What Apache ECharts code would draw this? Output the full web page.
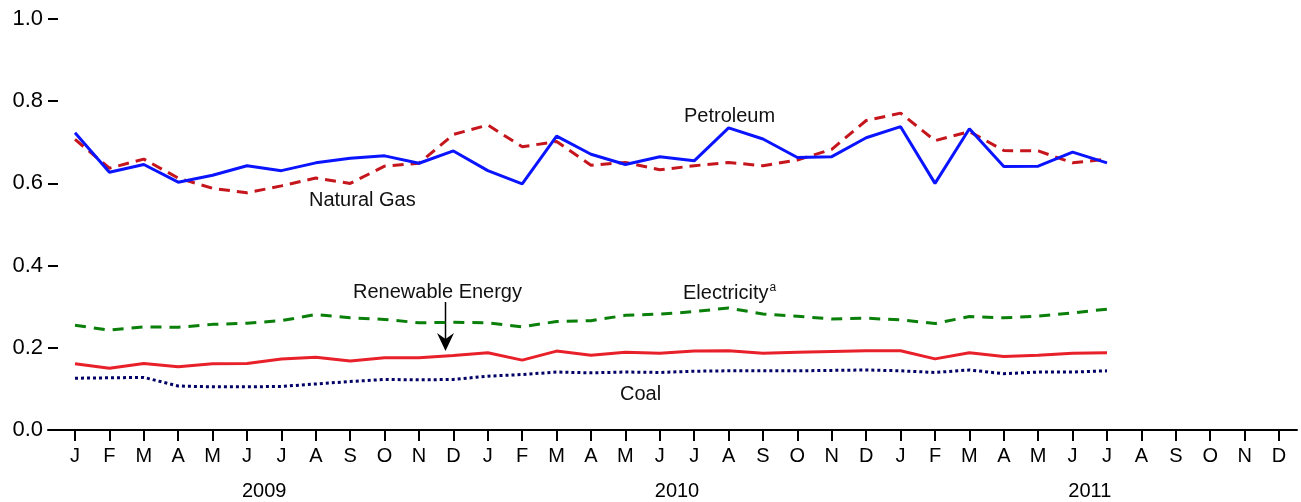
<!DOCTYPE html>
<html>
<head>
<meta charset="utf-8">
<script src="https://cdn.jsdelivr.net/npm/echarts@6/dist/echarts.min.js"></script>
<style>
html,body{margin:0;padding:0;background:#fff;}
#chart{width:1301px;height:502px;}
</style>
</head>
<body>
<div id="chart"></div>
<script>
// Jan 2009 .. Dec 2011
const monthLabels = ['J','F','M','A','M','J','J','A','S','O','N','D'];
const yearLabels = ['2009','2010','2011'];
const yTicks = [0, 0.2, 0.4, 0.6, 0.8, 1.0];

// values Jan 2009 .. Jul 2011
const petroleum = [0.723,0.627,0.646,0.603,0.620,0.643,0.631,0.650,0.661,0.667,0.649,0.679,
                   0.631,0.599,0.715,0.671,0.646,0.665,0.655,0.735,0.708,0.663,0.665,0.711,
                   0.738,0.600,0.733,0.641,0.642,0.676,0.650];
const naturalGas = [0.707,0.637,0.659,0.613,0.588,0.577,0.594,0.613,0.600,0.642,0.649,0.719,
                    0.742,0.689,0.702,0.644,0.651,0.633,0.643,0.651,0.643,0.657,0.683,0.753,
                    0.771,0.704,0.726,0.680,0.679,0.650,0.659];
const electricity = [0.255,0.243,0.251,0.250,0.257,0.260,0.266,0.281,0.273,0.269,0.261,0.262,
                     0.261,0.251,0.264,0.266,0.279,0.282,0.288,0.297,0.282,0.277,0.270,0.272,
                     0.268,0.259,0.276,0.273,0.277,0.285,0.294];
const renewable = [0.161,0.150,0.162,0.154,0.161,0.162,0.173,0.177,0.168,0.176,0.176,0.181,
                   0.188,0.170,0.192,0.182,0.189,0.187,0.192,0.193,0.187,0.189,0.191,0.193,
                   0.193,0.173,0.188,0.179,0.182,0.187,0.188];
const coal = [0.126,0.127,0.128,0.107,0.105,0.105,0.106,0.112,0.118,0.123,0.122,0.123,
              0.131,0.135,0.141,0.139,0.141,0.140,0.143,0.144,0.144,0.144,0.145,0.146,
              0.144,0.140,0.146,0.137,0.141,0.141,0.144];

const pairs = arr => arr.map((v, i) => [i, v]);
const FONT = '"Liberation Sans", Arial, sans-serif';

const chart = echarts.init(document.getElementById('chart'), null, {renderer: 'canvas'});
const TOP = 19, BOTTOM = 72;

const option = {
  animation: false,
  backgroundColor: '#fff',
  grid: [
    {left: 48, right: 4, top: TOP, bottom: BOTTOM},
    {left: 75, right: 22, top: TOP, bottom: BOTTOM}
  ],
  xAxis: [
    {gridIndex: 0, type: 'value', min: 0, max: 1, axisLine: {show: true, lineStyle: {color: '#000', width: 2}},
     axisTick: {show: false}, axisLabel: {show: false}, splitLine: {show: false}},
    {gridIndex: 1, type: 'value', min: 0, max: 35, interval: 1,
     axisLine: {show: false},
     axisTick: {show: true, length: 11, inside: false, lineStyle: {color: '#000', width: 2}},
     axisLabel: {show: true, interval: 0, margin: 16, color: '#000', fontSize: 20, fontFamily: FONT,
       formatter: v => monthLabels[((v % 12) + 12) % 12]},
     splitLine: {show: false}},
    {gridIndex: 1, type: 'value', min: 0, max: 35, interval: 0.5, position: 'bottom', offset: 36,
     axisLine: {show: false}, axisTick: {show: false},
     axisLabel: {show: true, interval: 0, margin: 15, color: '#000', fontSize: 20, fontFamily: FONT,
       formatter: v => { const k = (v - 5.5) / 12; return (Number.isInteger(k) && k >= 0 && k < yearLabels.length) ? yearLabels[k] : ''; }},
     splitLine: {show: false}}
  ],
  yAxis: [
    {gridIndex: 0, type: 'value', min: yTicks[0], max: yTicks[yTicks.length - 1], interval: 0.2,
     axisLine: {show: false},
     axisTick: {show: true, inside: true, length: 10, lineStyle: {color: '#000', width: 2}},
     axisLabel: {show: true, margin: 5, color: '#000', fontSize: 22, fontFamily: FONT,
       formatter: v => v.toFixed(1)},
     splitLine: {show: false}},
    {gridIndex: 1, type: 'value', min: 0, max: 1, show: false}
  ],
  series: [
    {name: 'Coal', type: 'line', xAxisIndex: 1, yAxisIndex: 1, data: pairs(coal), symbol: 'none',
     lineStyle: {color: '#000066', width: 3, type: [3, 3]}},
    {name: 'Renewable Energy', type: 'line', xAxisIndex: 1, yAxisIndex: 1, data: pairs(renewable), symbol: 'none',
     lineStyle: {color: '#e8202a', width: 3}},
    {name: 'Electricity', type: 'line', xAxisIndex: 1, yAxisIndex: 1, data: pairs(electricity), symbol: 'none',
     lineStyle: {color: '#0a7f0a', width: 3, type: [11, 8]}},
    {name: 'Natural Gas', type: 'line', xAxisIndex: 1, yAxisIndex: 1, data: pairs(naturalGas), symbol: 'none',
     lineStyle: {color: '#c4161c', width: 3, type: [11, 7]}},
    {name: 'Petroleum', type: 'line', xAxisIndex: 1, yAxisIndex: 1, data: pairs(petroleum), symbol: 'none',
     lineStyle: {color: '#0a14ff', width: 3}}
  ],
  graphic: [
    {type: 'text', left: 684, top: 106, style: {text: 'Petroleum', font: '20px ' + FONT, fill: '#111'}},
    {type: 'text', left: 309, top: 190, style: {text: 'Natural Gas', font: '20px ' + FONT, fill: '#111'}},
    {type: 'text', left: 353, top: 282, style: {text: 'Renewable Energy', font: '20px ' + FONT, fill: '#111'}},
    {type: 'text', left: 683, top: 282, style: {
      text: '{m|Electricity}{s|a}', font: '20px ' + FONT, fill: '#111',
      rich: {m: {fontSize: 20, fontFamily: FONT, color: '#111'}, s: {fontSize: 12, fontFamily: FONT, color: '#111', verticalAlign: 'top', padding: [0, 0, 10, 1]}}}},
    {type: 'text', left: 620, top: 384, style: {text: 'Coal', font: '20px ' + FONT, fill: '#111'}},
    {type: 'line', shape: {x1: 445.5, y1: 302, x2: 445.5, y2: 340}, style: {stroke: '#000', lineWidth: 1.5}},
    {type: 'polygon', shape: {points: [[445.5, 351], [437, 333], [445.5, 339], [454, 333]]}, style: {fill: '#000'}}
  ]
};
chart.setOption(option);
</script>
</body>
</html>
